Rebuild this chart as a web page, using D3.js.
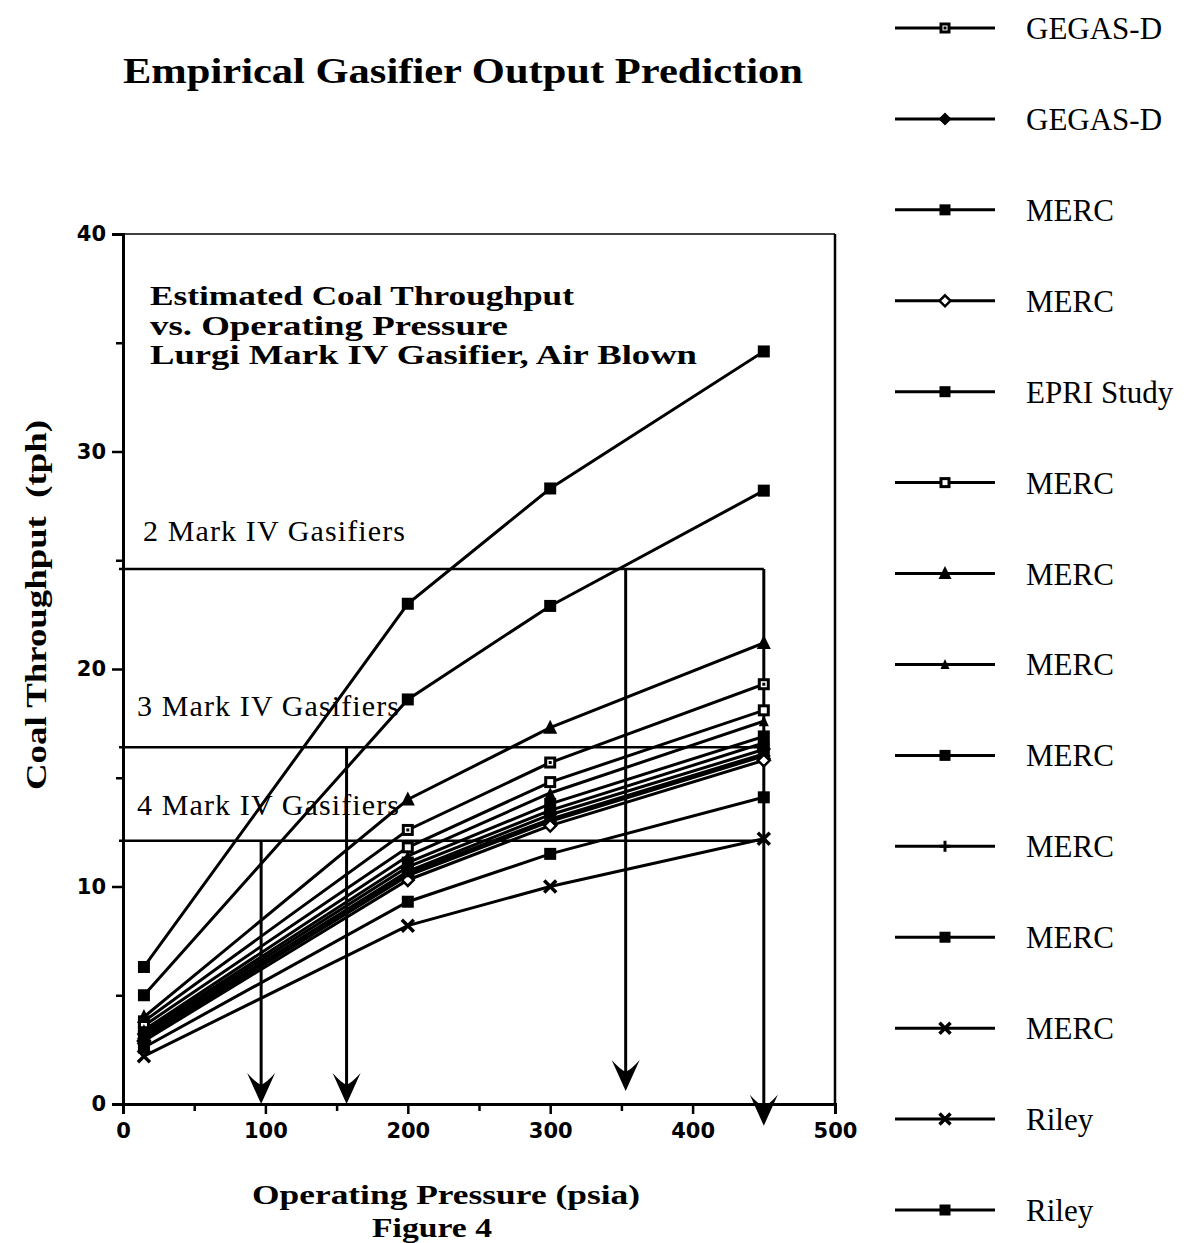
<!DOCTYPE html>
<html><head><meta charset="utf-8">
<script src="https://cdn.jsdelivr.net/npm/d3@7"></script>
<style>body{margin:0;background:#fff}</style>
</head><body>
<svg id="c" width="1189" height="1243"></svg>
<script>
// ---------- data ----------
const pressures = [14.7, 200, 300, 450];
const seriesNames = ["GEGAS-D","GEGAS-D","MERC","MERC","EPRI Study","MERC","MERC","MERC","MERC","MERC","MERC","MERC","Riley","Riley"];
const seriesMarkers = ["sqdot","diamond","square","diamondOpen","square","squareOpen","triangle","triangleSmall","square","plus","square","x","x","square"];
const gegas1 = [3.8, 12.6, 15.7, 19.3];
const gegas2 = [3.0, 10.5, 13.0, 16.0];
const merc1  = [6.3, 23.0, 28.3, 34.6];
const merc2  = [2.9, 10.3, 12.8, 15.8];
const epri   = [5.0, 18.6, 22.9, 28.2];
const merc3  = [3.6, 11.8, 14.8, 18.1];
const merc4  = [4.0, 14.0, 17.3, 21.2];
const merc5  = [3.4, 11.4, 14.3, 17.6];
const merc6  = [3.3, 11.1, 13.8, 16.9];
const merc7  = [3.2, 10.9, 13.5, 16.6];
const merc8  = [3.1, 10.7, 13.3, 16.3];
const merc9  = [3.0, 10.6, 13.1, 16.1];
const riley1 = [2.2, 8.2, 10.0, 12.2];
const riley2 = [2.6, 9.3, 11.5, 14.1];
const seriesValues = [gegas1,gegas2,merc1,merc2,epri,merc3,merc4,merc5,merc6,merc7,merc8,merc9,riley1,riley2];

const gasifierLabels = ["2 Mark IV Gasifiers","3 Mark IV Gasifiers","4 Mark IV Gasifiers"];
const gasifierLevels = [24.6, 16.4, 12.1];
const gasifierLineEnd = [450, 450, 450];
const arrowX = [97, 157, 353, 450];
const arrowFrom = [12.1, 16.4, 24.6, 24.6];
const arrowTo = [0, 0, 0.6, -1.0];
const xTicks = [0,100,200,300,400,500];
const xMinor = [50,150,250,350,450];
const yTicks = [0,10,20,30,40];
const yMinor = [5,15,25,35];
const titleText = "Empirical Gasifier Output Prediction";
const noteLines = ["Estimated Coal Throughput","vs. Operating Pressure","Lurgi Mark IV Gasifier, Air Blown"];

// ---------- layout ----------
const svg = d3.select("#c");
const x = d3.scaleLinear().domain([0,500]).range([123,835]);
const y = d3.scaleLinear().domain([0,40]).range([1104,234]);
const serif = "'Liberation Serif','Times New Roman',serif";
const sans = "'DejaVu Sans',sans-serif";

// title
svg.append("text").attr("x",123).attr("y",83).attr("textLength",680).attr("lengthAdjust","spacingAndGlyphs")
  .style("font-family",serif).style("font-weight","bold").style("font-size","35px").text(titleText);

// annotation lines
const noteY = [305, 335, 364], noteW = [424, 358, 547];
noteLines.forEach((t,i)=>{
  svg.append("text").attr("x",150).attr("y",noteY[i]).attr("textLength",noteW[i]).attr("lengthAdjust","spacingAndGlyphs")
    .style("font-family",serif).style("font-weight","bold").style("font-size","27px").text(t);
});

// axes frame
const frame = svg.append("g").attr("stroke","#000").attr("fill","none");
frame.append("line").attr("x1",x(500)).attr("x2",x(500)).attr("y1",y(0)).attr("y2",y(40)).attr("stroke-width",2.5);
frame.append("line").attr("x1",x(0)).attr("x2",x(500)).attr("y1",y(40)).attr("y2",y(40)).attr("stroke-width",1.5);

// x axis
svg.append("g").attr("transform",`translate(0,${y(0)})`)
  .call(d3.axisBottom(x).tickValues(xTicks).tickSize(10).tickPadding(9).tickFormat(d3.format("d")));
svg.append("g").attr("transform",`translate(0,${y(0)})`)
  .call(d3.axisBottom(x).tickValues(xMinor).tickSize(7).tickFormat(""))
  .select(".domain").remove();
// y axis
svg.append("g").attr("transform",`translate(${x(0)},0)`)
  .call(d3.axisLeft(y).tickValues(yTicks).tickSize(11).tickPadding(6).tickFormat(d3.format("d")));
svg.append("g").attr("transform",`translate(${x(0)},0)`)
  .call(d3.axisLeft(y).tickValues(yMinor).tickSize(7).tickFormat(""))
  .select(".domain").remove();
svg.selectAll(".domain").attr("stroke-width",3);
svg.selectAll(".tick line").attr("stroke-width",2.5);
svg.selectAll(".tick text").style("font-family",sans).style("font-weight","bold").style("font-size","21px").attr("fill","#000");

// axis titles
svg.append("text").attr("x",446).attr("y",1204).attr("text-anchor","middle").attr("textLength",388).attr("lengthAdjust","spacingAndGlyphs")
  .style("font-family",serif).style("font-weight","bold").style("font-size","28px").text("Operating Pressure (psia)");
svg.append("text").attr("x",432).attr("y",1237).attr("text-anchor","middle").attr("textLength",120).attr("lengthAdjust","spacingAndGlyphs")
  .style("font-family",serif).style("font-weight","bold").style("font-size","27px").text("Figure 4");
svg.append("text").attr("transform","translate(46,605) rotate(-90)").attr("text-anchor","middle")
  .attr("textLength",370).attr("lengthAdjust","spacingAndGlyphs").style("white-space","pre")
  .style("font-family",serif).style("font-weight","bold").style("font-size","30px").text("Coal Throughput  (tph)");

// gasifier reference lines
const gasLabelX = [143,137,137], gasLabelY = [541, 716, 815];
gasifierLevels.forEach((v,i)=>{
  svg.append("line").attr("x1",x(0)-4).attr("x2",x(gasifierLineEnd[i])).attr("y1",y(v)).attr("y2",y(v))
    .attr("stroke","#000").attr("stroke-width",2.5);
  svg.append("text").attr("x",gasLabelX[i]).attr("y",gasLabelY[i]).attr("textLength",262).attr("lengthAdjust","spacing")
    .style("font-family",serif).style("font-size","30px").text(gasifierLabels[i]);
});

// arrows
const arrowPath = "M0,0 L-14,-31 Q-6,-22 0,-19 Q6,-22 14,-31 Z";
arrowX.forEach((px,i)=>{
  const xx = x(px), y1 = y(arrowFrom[i]), y2 = y(arrowTo[i]);
  svg.append("line").attr("x1",xx).attr("x2",xx).attr("y1",y1).attr("y2",y2-8).attr("stroke","#000").attr("stroke-width",3);
  svg.append("path").attr("d",arrowPath).attr("transform",`translate(${xx},${y2})`).attr("fill","#000");
});

// marker drawing
function drawMarker(g, type, cx, cy, s){
  const h = s/2;
  if(type==="square"){
    g.append("rect").attr("x",cx-h).attr("y",cy-h).attr("width",s).attr("height",s).attr("fill","#000");
  } else if(type==="squareOpen"){
    g.append("rect").attr("x",cx-h+1.5).attr("y",cy-h+1.5).attr("width",s-3).attr("height",s-3).attr("fill","#fff").attr("stroke","#000").attr("stroke-width",3);
  } else if(type==="sqdot"){
    g.append("rect").attr("x",cx-h+1.5).attr("y",cy-h+1.5).attr("width",s-3).attr("height",s-3).attr("fill","#fff").attr("stroke","#000").attr("stroke-width",3);
    g.append("rect").attr("x",cx-1.5).attr("y",cy-1.5).attr("width",3).attr("height",3).attr("fill","#000");
  } else if(type==="diamond"){
    g.append("path").attr("d",`M${cx},${cy-h-1}L${cx+h+1},${cy}L${cx},${cy+h+1}L${cx-h-1},${cy}Z`).attr("fill","#000");
  } else if(type==="diamondOpen"){
    g.append("path").attr("d",`M${cx},${cy-h}L${cx+h},${cy}L${cx},${cy+h}L${cx-h},${cy}Z`).attr("fill","#fff").attr("stroke","#000").attr("stroke-width",2.5);
  } else if(type==="triangle"){
    g.append("path").attr("d",`M${cx},${cy-h-2}L${cx+h+1},${cy+h}L${cx-h-1},${cy+h}Z`).attr("fill","#000");
  } else if(type==="triangleSmall"){
    g.append("path").attr("d",`M${cx},${cy-h}L${cx+h-1},${cy+h-1}L${cx-h+1},${cy+h-1}Z`).attr("fill","#000");
  } else if(type==="plus"){
    g.append("path").attr("d",`M${cx-h},${cy}H${cx+h}M${cx},${cy-h}V${cy+h}`).attr("stroke","#000").attr("stroke-width",3);
  } else if(type==="x"){
    g.append("path").attr("d",`M${cx-h},${cy-h}L${cx+h},${cy+h}M${cx+h},${cy-h}L${cx-h},${cy+h}`).attr("stroke","#000").attr("stroke-width",3.5);
  }
}

// series lines
const line = d3.line().x((d,i)=>x(pressures[i])).y(d=>y(d));
const gs = svg.append("g");
seriesValues.forEach((vals,k)=>{
  gs.append("path").attr("d",line(vals)).attr("fill","none").attr("stroke","#000").attr("stroke-width",3);
});
seriesValues.forEach((vals,k)=>{
  vals.forEach((v,i)=> drawMarker(gs, seriesMarkers[k], x(pressures[i]), y(v), 12));
});

// legend
const leg = svg.append("g");
const legY = d3.scaleLinear().domain([0,13]).range([28,1210]);
seriesNames.forEach((n,k)=>{
  const cy = legY(k);
  leg.append("line").attr("x1",895).attr("x2",995).attr("y1",cy).attr("y2",cy).attr("stroke","#000").attr("stroke-width",3);
  drawMarker(leg, seriesMarkers[k], 945, cy, 11);
  leg.append("text").attr("x",1026).attr("y",cy+11).style("font-family",serif).style("font-size","31px").text(n);
});
</script>
</body></html>
